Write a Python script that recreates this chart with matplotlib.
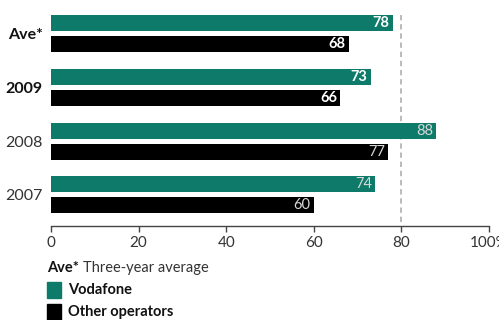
import matplotlib
matplotlib.use("Agg")
import matplotlib.pyplot as plt
from matplotlib.patches import Rectangle
import numpy as np

plt.rcParams["font.family"] = ["Lato", "DejaVu Sans"]

categories = ["Ave*", "2009", "2008", "2007"]
vodafone = [78, 73, 88, 74]
others = [68, 66, 77, 60]
bold_rows = [True, True, False, False]

green = "#0e7b6a"
black = "#000000"

fig = plt.figure(figsize=(4.99, 3.2), dpi=100)
ax = fig.add_axes([51 / 499, 1 - 226 / 320, 438 / 499, 221 / 320])

y = np.arange(len(categories))
h = 0.297
off = 0.195
ax.barh(y - off, vodafone, height=h, color=green)
ax.barh(y + off, others, height=h, color=black)

for i in range(len(categories)):
    if bold_rows[i]:
        col, wt = "white", "bold"
    else:
        col, wt = "#d8d8d8", "normal"
    ax.text(vodafone[i] - 0.7, y[i] - off, str(vodafone[i]), ha="right", va="center",
            color=col, fontsize=10.5, fontweight=wt)
    ax.text(others[i] - 0.7, y[i] + off, str(others[i]), ha="right", va="center",
            color=col, fontsize=10.5, fontweight=wt)

ax.axvline(80, ymin=0.02, ymax=0.955, color="#a8a8a8", lw=1.1, ls=(0, (3.5, 2.5)), zorder=0)

ax.set_xlim(0, 100)
ax.set_ylim(3.58, -0.53)
ax.set_xticks([0, 20, 40, 60, 80, 100])
ax.set_xticklabels(["0", "20", "40", "60", "80", "100%"])
ax.set_yticks(y)
ax.set_yticklabels(categories)
for lab, b in zip(ax.get_yticklabels(), bold_rows):
    lab.set_fontweight("bold" if b else "normal")
    lab.set_color("#111111" if b else "#333333")
    lab.set_fontsize(11.5)

ax.tick_params(axis="y", length=0, pad=6)
ax.tick_params(axis="x", length=4.5, width=1, color="#444444", labelsize=11,
               labelcolor="#333333", pad=3)
for s in ["top", "right", "left"]:
    ax.spines[s].set_visible(False)
ax.spines["bottom"].set_color("#444444")
ax.spines["bottom"].set_linewidth(1)

# footnote + legend
fig.text(47 / 499, 1 - 268 / 320, "Ave*", fontsize=10.5, fontweight="bold",
         va="center", ha="left", color="#111111")
fig.text(83 / 499, 1 - 268 / 320, "Three-year average", fontsize=10.5,
         va="center", ha="left", color="#333333")
for label, col, yc in [("Vodafone", green, 290), ("Other operators", black, 312)]:
    fig.patches.append(Rectangle((47 / 499, 1 - (yc + 8) / 320), 14 / 499, 16 / 320,
                                 transform=fig.transFigure, color=col))
    fig.text(68 / 499, 1 - yc / 320, label, fontsize=10.5, fontweight="bold",
             va="center", ha="left", color="#111111")

fig.savefig("out.png", dpi=100)
